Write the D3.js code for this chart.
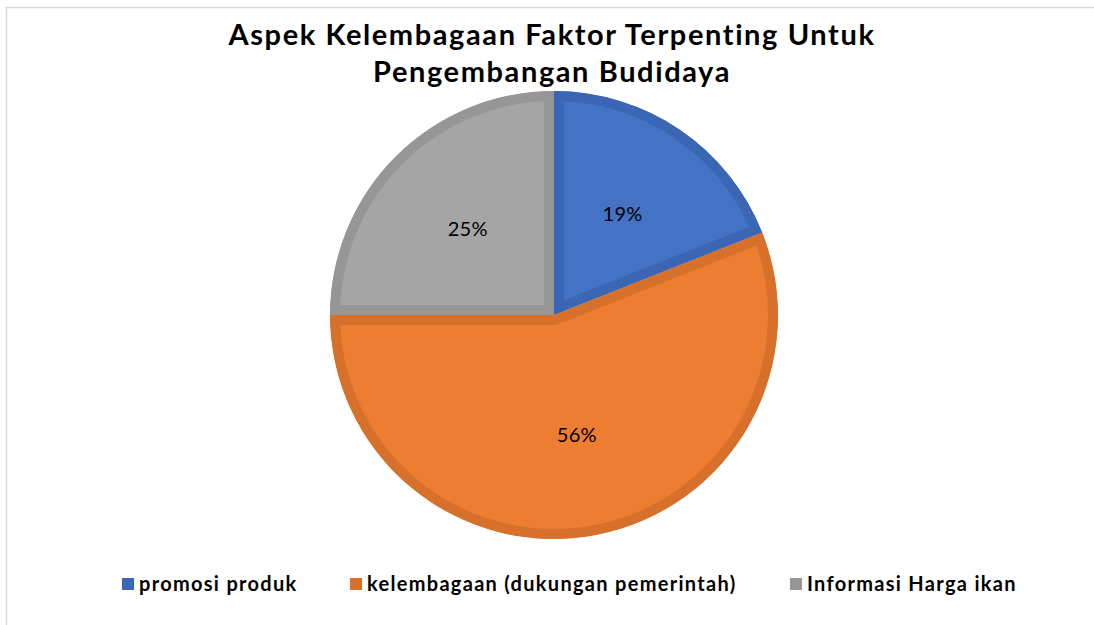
<html>
<head>
<title>Aspek Kelembagaan</title>
<script src="https://d3js.org/d3.v7.min.js"></script>
<style>
  body { margin: 0; background: #fff; }
  .title { font-family: Lato, sans-serif; font-weight: bold; font-size: 29px; fill: #000; letter-spacing: 1.6px; }
  .plabel { font-family: Lato, sans-serif; font-size: 20px; fill: #000; letter-spacing: 0.3px; }
  .legend text { font-family: Lato, sans-serif; font-weight: bold; font-size: 20px; fill: #000; letter-spacing: 1.3px; }
</style>
</head>
<body>
<script>
var categories = ['promosi produk', 'kelembagaan (dukungan pemerintah)', 'Informasi Harga ikan'];
var values = [19, 56, 25];
var fills = ['#4472c4', '#ed7d31', '#a5a5a5'];
var borders = ['#3a66b4', '#d6702b', '#969696'];
var titleLines = ['Aspek Kelembagaan Faktor Terpenting Untuk', 'Pengembangan Budidaya'];

var w = 1094, h = 625;
var cx = 554, cy = 315, r = 224;

var svg = d3.select('body').append('svg')
    .attr('width', w)
    .attr('height', h);

// chart area frame
svg.append('rect')
    .attr('x', 6.5).attr('y', 7.5)
    .attr('width', w + 10).attr('height', h + 10)
    .attr('fill', 'none')
    .attr('stroke', '#d9d9d9')
    .attr('stroke-width', 1.5);

svg.selectAll('text.title')
    .data(titleLines)
    .enter()
    .append('text')
    .attr('class', 'title')
    .attr('x', 552)
    .attr('y', function (d, i) { return 45 + i * 37; })
    .attr('text-anchor', 'middle')
    .text(function (d) { return d; });

var data = categories.map(function (c, i) { return { name: c, value: values[i], i: i }; });

var pie = d3.pie()
    .sort(null)
    .value(function (d) { return d.value; });

var arc = d3.arc().innerRadius(0).outerRadius(r);
var labelArc = d3.arc().innerRadius(122).outerRadius(122);

var g = svg.append('g').attr('transform', 'translate(' + cx + ',' + cy + ')');
var arcs = pie(data);

var defs = svg.append('defs');
arcs.forEach(function (a, i) {
    defs.append('clipPath')
        .attr('id', 'clip' + i)
        .append('path')
        .attr('d', arc(a));
});

g.selectAll('path.slice')
    .data(arcs)
    .enter()
    .append('path')
    .attr('class', 'slice')
    .attr('d', arc)
    .attr('fill', function (d) { return fills[d.data.i]; })
    .attr('stroke', function (d) { return borders[d.data.i]; })
    .attr('stroke-width', 20)
    .attr('stroke-linejoin', 'miter')
    .attr('clip-path', function (d) { return 'url(#clip' + d.data.i + ')'; });

g.selectAll('text.plabel')
    .data(arcs)
    .enter()
    .append('text')
    .attr('class', 'plabel')
    .attr('transform', function (d) { return 'translate(' + labelArc.centroid(d) + ')'; })
    .attr('text-anchor', 'middle')
    .attr('dy', '0.35em')
    .text(function (d) { return d.data.value + '%'; });

// legend
var legendX = [122, 350, 790];
var legend = svg.append('g').attr('class', 'legend');
var items = legend.selectAll('g')
    .data(data)
    .enter()
    .append('g')
    .attr('transform', function (d) { return 'translate(' + legendX[d.i] + ',578)'; });

items.append('rect')
    .attr('width', 12).attr('height', 12)
    .attr('fill', function (d) { return borders[d.i]; });

items.append('text')
    .attr('x', 17)
    .attr('y', 13)
    .text(function (d) { return d.name; });
</script>
</body>
</html>
